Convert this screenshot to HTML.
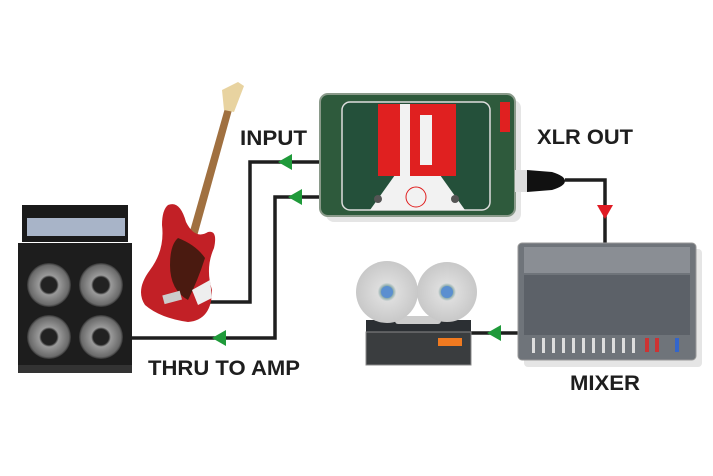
<!DOCTYPE html>
<html><head><meta charset="utf-8"><style>
html,body{margin:0;padding:0;background:#fff}
svg{display:block}
text{font-family:"Liberation Sans",sans-serif;font-weight:bold;fill:#1e1e1e}
</style></head><body>
<svg width="713" height="476" viewBox="0 0 713 476" xmlns="http://www.w3.org/2000/svg">
<defs>
<radialGradient id="spk" cx="50%" cy="50%" r="50%"><stop offset="0.35" stop-color="#222"/><stop offset="0.45" stop-color="#9a9a9a"/><stop offset="0.9" stop-color="#6a6a6a"/><stop offset="1" stop-color="#333"/></radialGradient>
<radialGradient id="reel" cx="50%" cy="50%" r="50%"><stop offset="0.2" stop-color="#8aa"/><stop offset="0.3" stop-color="#ddd"/><stop offset="1" stop-color="#c8c8c8"/></radialGradient>
</defs>
<g stroke="#1e1e1e" stroke-width="3.5" fill="none">
<polyline points="210,302 250,302 250,162 322,162"/>
<polyline points="132,338 275,338 275,197 322,197"/>
<polyline points="565,180 605,180 605,246"/>
<polyline points="470,333 520,333"/>
</g>
<g fill="#1f9a3a">
<polygon points="278,162 292,154 292,170"/>
<polygon points="288,197 302,189 302,205"/>
<polygon points="212,338 226,330 226,346"/>
<polygon points="487,333 501,325 501,341"/>
</g>
<polygon points="597,205 613,205 605,219" fill="#e01b24"/>
<rect x="326" y="100" width="195" height="122" rx="8" fill="#ccc" opacity="0.5"/>
<rect x="320" y="94" width="195" height="122" rx="8" fill="#2e5a3c" stroke="#8a9a8a" stroke-width="2"/>
<rect x="342" y="102" width="148" height="108" rx="8" fill="#24503a" stroke="#ddd" stroke-width="1.5"/>
<polygon points="370,210 395,175 440,175 465,210" fill="#f2f2f2"/>
<rect x="378" y="104" width="78" height="72" fill="#e02020"/>
<rect x="400" y="104" width="10" height="72" fill="#f2f2f2"/><rect x="420" y="115" width="12" height="50" fill="#f2f2f2"/>
<circle cx="416" cy="197" r="10" fill="none" stroke="#e02020"/>
<circle cx="378" cy="199" r="4" fill="#555"/><circle cx="455" cy="199" r="4" fill="#555"/>
<rect x="500" y="102" width="10" height="30" fill="#e02020"/>
<rect x="515" y="170" width="12" height="22" fill="#ddd"/>
<path d="M527,170 L552,172 Q565,176 565,181 Q565,186 552,190 L527,192 Z" fill="#111"/>
<rect x="524" y="249" width="178" height="118" rx="4" fill="#ccc" opacity="0.5"/>
<rect x="518" y="243" width="178" height="117" rx="4" fill="#6f747a" stroke="#999"/>
<rect x="524" y="247" width="166" height="26" fill="#8a8e94"/>
<rect x="524" y="275" width="166" height="60" fill="#5c6168"/>
<g fill="#ddd">
<rect x="532" y="338" width="3" height="15"/><rect x="542" y="338" width="3" height="15"/><rect x="552" y="338" width="3" height="15"/><rect x="562" y="338" width="3" height="15"/><rect x="572" y="338" width="3" height="15"/><rect x="582" y="338" width="3" height="15"/><rect x="592" y="338" width="3" height="15"/><rect x="602" y="338" width="3" height="15"/><rect x="612" y="338" width="3" height="15"/><rect x="622" y="338" width="3" height="15"/><rect x="632" y="338" width="3" height="15"/>
</g>
<rect x="645" y="338" width="4" height="14" fill="#c33"/><rect x="655" y="338" width="4" height="14" fill="#c33"/><rect x="675" y="338" width="4" height="14" fill="#36c"/>
<rect x="366" y="320" width="105" height="45" fill="#2b2f33"/>
<rect x="366" y="332" width="105" height="33" fill="#3a3d3f" stroke="#888"/>
<rect x="438" y="338" width="24" height="8" fill="#f07a20"/>
<rect x="395" y="316" width="46" height="8" rx="3" fill="#ccc"/>
<circle cx="387" cy="292" r="31" fill="url(#reel)"/>
<circle cx="447" cy="292" r="30" fill="url(#reel)"/>
<circle cx="387" cy="292" r="6" fill="#5b8fd0"/><circle cx="447" cy="292" r="6" fill="#5b8fd0"/>
<rect x="22" y="205" width="106" height="37" fill="#1a1a1a"/>
<rect x="27" y="218" width="98" height="18" fill="#a8b4c8"/>
<rect x="18" y="243" width="114" height="128" fill="#1d1d1d"/>
<rect x="18" y="365" width="114" height="8" fill="#333"/>
<circle cx="49" cy="285" r="22" fill="url(#spk)"/><circle cx="101" cy="285" r="22" fill="url(#spk)"/>
<circle cx="49" cy="337" r="22" fill="url(#spk)"/><circle cx="101" cy="337" r="22" fill="url(#spk)"/>
<!-- guitar -->
<polygon points="225,108 232,110 196,240 188,238" fill="#a07040"/>
<polygon points="222,90 238,82 244,86 234,112 224,110" fill="#e8d3a0"/>
<path d="M168,205 Q180,200 186,222 Q195,240 208,232 Q218,230 214,248 Q205,268 212,290 Q212,320 188,322 Q160,318 145,305 Q135,290 150,270 Q165,250 162,225 Q162,210 168,205 Z" fill="#c22026"/>
<path d="M178,238 Q196,245 205,258 Q198,280 188,300 Q170,290 170,265 Q170,245 178,238 Z" fill="#4a1a10"/>
<path d="M192,290 L210,280 L212,298 L198,305 Z" fill="#eee"/>
<rect x="163" y="293" width="18" height="9" fill="#ccc" transform="rotate(-15 172 297)"/>
<text x="240" y="145" font-size="21" textLength="67" lengthAdjust="spacingAndGlyphs">INPUT</text>
<text x="537" y="144" font-size="21" textLength="96" lengthAdjust="spacingAndGlyphs">XLR OUT</text>
<text x="148" y="375" font-size="21" textLength="152" lengthAdjust="spacingAndGlyphs">THRU TO AMP</text>
<text x="570" y="390" font-size="21" textLength="70" lengthAdjust="spacingAndGlyphs">MIXER</text>
</svg>
</body></html>
